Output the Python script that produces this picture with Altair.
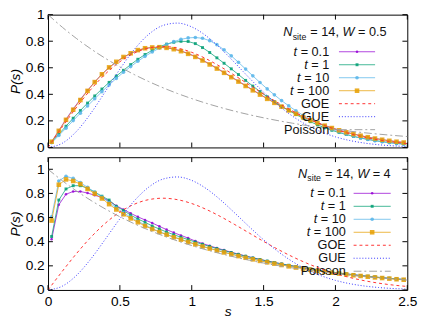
import altair as alt
import pandas as pd

FONT = "Liberation Sans"

# ---------------- data ----------------
s_bins = [round(0.025 + 0.05 * i, 3) for i in range(50)]
s_theory = [0.0, 0.1, 0.2, 0.3, 0.4, 0.5, 0.6, 0.7, 0.8, 0.9, 1.0, 1.1, 1.2,
            1.3, 1.4, 1.5, 1.6, 1.7, 1.8, 1.9, 2.0, 2.1, 2.2, 2.3, 2.4, 2.5]

goe = [0.0, 0.1559, 0.3044, 0.4391, 0.5541, 0.6454, 0.7104, 0.7483, 0.7602,
       0.7483, 0.7162, 0.6680, 0.6083, 0.5415, 0.4718, 0.4025, 0.3365, 0.2760,
       0.2220, 0.1752, 0.1358, 0.1033, 0.0772, 0.0567, 0.0409, 0.0290]
gue = [0.0, 0.0320, 0.1233, 0.2602, 0.4232, 0.5896, 0.7380, 0.8513, 0.9187,
       0.9364, 0.9077, 0.8406, 0.7464, 0.6371, 0.5240, 0.4158, 0.3189, 0.2364,
       0.1697, 0.1181, 0.0796, 0.0521, 0.0331, 0.0204, 0.0122, 0.0071]
poisson = [1.0, 0.9048, 0.8187, 0.7408, 0.6703, 0.6065, 0.5488, 0.4966, 0.4493,
           0.4066, 0.3679, 0.3329, 0.3012, 0.2725, 0.2466, 0.2231, 0.2019, 0.1827,
           0.1653, 0.1496, 0.1353, 0.1225, 0.1108, 0.1003, 0.0907, 0.0821]

# W = 0.5 panel
top_t01 = [0.042, 0.127, 0.212, 0.290, 0.362, 0.430, 0.494, 0.551, 0.601, 0.643,
           0.679, 0.708, 0.731, 0.746, 0.753, 0.754, 0.750, 0.741, 0.727, 0.708,
           0.685, 0.658, 0.628, 0.597, 0.565, 0.532, 0.499, 0.466, 0.433, 0.400,
           0.368, 0.338, 0.309, 0.281, 0.255, 0.230, 0.207, 0.186, 0.166, 0.148,
           0.131, 0.116, 0.102, 0.089, 0.078, 0.068, 0.059, 0.051, 0.044, 0.038]
top_t1 = [0.040, 0.100, 0.160, 0.220, 0.278, 0.334, 0.388, 0.440, 0.490, 0.537,
          0.581, 0.624, 0.664, 0.700, 0.732, 0.758, 0.778, 0.792, 0.799, 0.798,
          0.782, 0.752, 0.715, 0.675, 0.634, 0.592, 0.549, 0.505, 0.462, 0.421,
          0.382, 0.345, 0.310, 0.278, 0.248, 0.220, 0.194, 0.170, 0.148, 0.129,
          0.112, 0.097, 0.083, 0.071, 0.061, 0.052, 0.044, 0.037, 0.031, 0.026]
top_t10 = [0.035, 0.090, 0.145, 0.202, 0.258, 0.313, 0.367, 0.420, 0.471, 0.520,
           0.566, 0.609, 0.649, 0.686, 0.719, 0.748, 0.775, 0.797, 0.814, 0.825,
           0.828, 0.822, 0.804, 0.774, 0.735, 0.690, 0.641, 0.590, 0.539, 0.489,
           0.441, 0.396, 0.353, 0.313, 0.276, 0.242, 0.211, 0.183, 0.158, 0.136,
           0.116, 0.099, 0.084, 0.071, 0.060, 0.050, 0.042, 0.035, 0.029, 0.024]
top_t100 = [0.043, 0.125, 0.208, 0.284, 0.357, 0.426, 0.492, 0.551, 0.603, 0.645,
            0.681, 0.709, 0.733, 0.747, 0.753, 0.755, 0.750, 0.740, 0.725, 0.705,
            0.682, 0.655, 0.625, 0.594, 0.562, 0.529, 0.496, 0.463, 0.430, 0.398,
            0.366, 0.336, 0.307, 0.279, 0.253, 0.228, 0.205, 0.184, 0.164, 0.146,
            0.129, 0.114, 0.100, 0.088, 0.077, 0.067, 0.058, 0.050, 0.043, 0.037]

# W = 4 panel
bot_t01 = [0.420, 0.706, 0.793, 0.816, 0.816, 0.803, 0.785, 0.766, 0.738, 0.698,
           0.667, 0.635, 0.606, 0.580, 0.555, 0.527, 0.500, 0.475, 0.452, 0.430,
           0.405, 0.385, 0.366, 0.347, 0.330, 0.313, 0.297, 0.282, 0.267, 0.253,
           0.240, 0.228, 0.216, 0.205, 0.194, 0.184, 0.174, 0.165, 0.156, 0.148,
           0.140, 0.133, 0.126, 0.119, 0.113, 0.107, 0.101, 0.096, 0.091, 0.087]
bot_t1 = [0.443, 0.745, 0.837, 0.864, 0.864, 0.843, 0.811, 0.777, 0.745, 0.693,
          0.659, 0.620, 0.588, 0.561, 0.530, 0.505, 0.480, 0.458, 0.437, 0.417,
          0.397, 0.378, 0.360, 0.343, 0.326, 0.310, 0.295, 0.280, 0.266, 0.253,
          0.240, 0.228, 0.216, 0.205, 0.195, 0.185, 0.175, 0.166, 0.157, 0.149,
          0.141, 0.134, 0.127, 0.120, 0.114, 0.108, 0.102, 0.097, 0.092, 0.087]
bot_t10 = [0.606, 0.903, 0.942, 0.924, 0.890, 0.850, 0.810, 0.770, 0.725, 0.680,
           0.640, 0.603, 0.570, 0.538, 0.508, 0.483, 0.461, 0.440, 0.420, 0.400,
           0.381, 0.363, 0.346, 0.330, 0.314, 0.299, 0.284, 0.270, 0.257, 0.244,
           0.232, 0.221, 0.210, 0.199, 0.189, 0.180, 0.171, 0.162, 0.154, 0.146,
           0.138, 0.131, 0.124, 0.118, 0.112, 0.106, 0.101, 0.096, 0.091, 0.087]
bot_t100 = [0.575, 0.872, 0.916, 0.903, 0.877, 0.837, 0.798, 0.758, 0.711, 0.667,
            0.627, 0.593, 0.561, 0.530, 0.505, 0.480, 0.458, 0.437, 0.417, 0.397,
            0.378, 0.360, 0.343, 0.327, 0.311, 0.296, 0.281, 0.267, 0.254, 0.241,
            0.229, 0.218, 0.207, 0.196, 0.186, 0.177, 0.168, 0.159, 0.151, 0.143,
            0.136, 0.129, 0.122, 0.116, 0.110, 0.104, 0.099, 0.094, 0.089, 0.085]

t_labels = ["0.1", "1", "10", "100"]
theory_labels = ["GOE", "GUE", "Poisson"]
x_ticks = [0, 0.5, 1, 1.5, 2, 2.5]
y_ticks = [0, 0.2, 0.4, 0.6, 0.8, 1]

# ---------------- styles ----------------
series_style = [
    dict(color="#9400d3", shape="circle", size=7),
    dict(color="#009e73", shape="square", size=9),
    dict(color="#56b4e9", shape="circle", size=14),
    dict(color="#e69f00", shape="square", size=22),
]
theory_style = [
    dict(color="#ff3030", dash=[3, 3]),
    dict(color="#3030ff", dash=[1, 2]),
    dict(color="#a0a0a0", dash=[8, 3, 2, 3]),
]
eq_width = {"0.1": 29.3, "1": 18.4, "10": 25.7, "100": 32.9}

W = 368
H = 136
one = pd.DataFrame({"k": [0]})


def txt(t, x, y, align="left", style="normal", size=13, baseline="middle"):
    return alt.Chart(one).mark_text(
        text=t, align=align, baseline=baseline, font=FONT, fontSize=size,
        fontStyle=style, color="#111111"
    ).encode(x=alt.value(x), y=alt.value(y))


def panel(series, ymax, show_x, wlabel, leg):
    X = alt.X("s:Q", scale=alt.Scale(domain=[0, 2.5], nice=False, zero=False),
              axis=(alt.Axis(values=x_ticks, format="~g", title="s", titleFontStyle="italic",
                             labelFlush=False, labelPadding=5, titlePadding=-4)
                    if show_x else None))
    Y = alt.Y("v:Q", scale=alt.Scale(domain=[0, ymax], nice=False, zero=False),
              axis=alt.Axis(values=y_ticks, format="~g", title="P(s)", titleFontStyle="italic",
                            labelFlush=False, labelPadding=4, titlePadding=3))
    layers = []
    for vals, st in zip(series, series_style):
        df = pd.DataFrame({"s": s_bins, "v": vals})
        layers.append(alt.Chart(df).mark_line(color=st["color"], strokeWidth=1.0, opacity=0.75)
                      .encode(x=X, y=Y))
        layers.append(alt.Chart(df).mark_point(filled=True, shape=st["shape"], size=st["size"],
                                               color=st["color"], opacity=0.85)
                      .encode(x=X, y=Y))
    for vals, st in zip([goe, gue, poisson], theory_style):
        df = pd.DataFrame({"s": s_theory, "v": vals})
        layers.append(alt.Chart(df).mark_line(color=st["color"], strokeDash=st["dash"],
                                              strokeWidth=1.0, interpolate="monotone")
                      .encode(x=X, y=Y))
    # inward ticks (mirrored)
    xt = pd.DataFrame({"s": x_ticks})
    yt = pd.DataFrame({"v": y_ticks})
    layers.append(alt.Chart(xt).mark_rule(color="black").encode(x=X, y=alt.value(H), y2=alt.value(H - 5)))
    layers.append(alt.Chart(xt).mark_rule(color="black").encode(x=X, y=alt.value(0), y2=alt.value(5)))
    layers.append(alt.Chart(yt).mark_rule(color="black").encode(y=Y, x=alt.value(0), x2=alt.value(5)))
    layers.append(alt.Chart(yt).mark_rule(color="black").encode(y=Y, x=alt.value(W), x2=alt.value(W - 5)))

    # key title: N_site = 14, W = ...
    tx, ty = leg["title_x"], leg["title_y"]
    layers.append(txt("N", tx, ty, style="italic", baseline="alphabetic"))
    layers.append(txt("site", tx + 9.6, ty + 3.5, size=9, baseline="alphabetic"))
    x2 = tx + 9.6 + 14.5 + 3.6
    layers.append(txt("= 14,", x2, ty, baseline="alphabetic"))
    x3 = x2 + 29.3 + 3.6
    layers.append(txt("W", x3, ty, style="italic", baseline="alphabetic"))
    layers.append(txt("= " + wlabel, x3 + 12.3 + 3.6, ty, baseline="alphabetic"))

    xr, l1, l2 = leg["text_r"], leg["line_l"], leg["line_r"]
    xm = (l1 + l2) / 2
    for i, (lab, st) in enumerate(zip(t_labels, series_style)):
        yy = leg["row0"] + leg["dy"] * i
        layers.append(txt("= " + lab, xr, yy, align="right"))
        layers.append(txt("t", xr - eq_width[lab] - 3.6, yy, align="right", style="italic"))
        layers.append(alt.Chart(one).mark_rule(color=st["color"], strokeWidth=1.0, opacity=0.75)
                      .encode(x=alt.value(l1), x2=alt.value(l2), y=alt.value(yy)))
        layers.append(alt.Chart(one).mark_point(filled=True, shape=st["shape"], size=st["size"],
                                                color=st["color"], opacity=0.85)
                      .encode(x=alt.value(xm), y=alt.value(yy)))
    for j, (lab, st) in enumerate(zip(theory_labels, theory_style)):
        yy = leg["row0"] + leg["dy"] * (4 + j)
        layers.append(txt(lab, xr, yy, align="right"))
        layers.append(alt.Chart(one).mark_rule(color=st["color"], strokeDash=st["dash"], strokeWidth=1.0)
                      .encode(x=alt.value(l1), x2=alt.value(l2), y=alt.value(yy)))

    return alt.layer(*layers).properties(width=W, height=H)


top = panel([top_t01, top_t1, top_t10, top_t100], 1.0, False, "0.5",
            dict(title_x=241, title_y=22, text_r=288, line_l=298, line_r=335, row0=38, dy=13.3))
bottom = panel([bot_t01, bot_t1, bot_t10, bot_t100], 1.1, True, "4",
               dict(title_x=256, title_y=21, text_r=305, line_l=313, line_r=351, row0=37, dy=13.3))

chart = alt.vconcat(top, bottom, spacing=1).properties(
    padding={"left": 0, "top": -5, "right": 2, "bottom": 0}
).configure_view(stroke="black", strokeWidth=1).configure_axis(
    grid=False, domain=False, ticks=False,
    labelFont=FONT, labelFontSize=14, labelColor="black",
    titleFont=FONT, titleFontSize=14, titleFontWeight="normal", titleColor="black"
).configure_concat(spacing=1)

chart.save("out.html", embed_options={"renderer": "svg", "actions": False})
